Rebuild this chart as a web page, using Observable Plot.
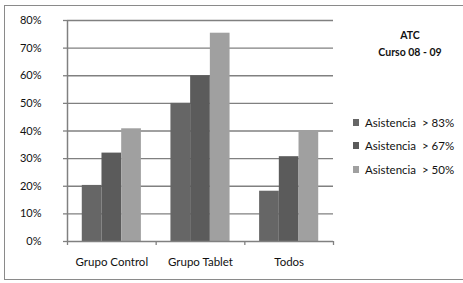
<!DOCTYPE html>
<html>
<head>
<meta charset="utf-8">
<script src="https://cdn.jsdelivr.net/npm/d3@7"></script>
<script src="https://cdn.jsdelivr.net/npm/@observablehq/plot@0.6"></script>
<style>
  body { margin: 0; background: #fff; }
  #wrap { position: relative; width: 463px; height: 283px; overflow: hidden; font-family: Lato, "Open Sans", sans-serif; }
  #border { position: absolute; left: 4px; top: 5px; width: 470px; height: 275px; border: 1.5px solid #8a8a8a; box-sizing: border-box; }
  #title { position: absolute; left: 360px; width: 100px; top: 27px; text-align: center; font-weight: bold; font-size: 10.5px; line-height: 17px; color: #111; }
  #legend { position: absolute; left: 353px; top: 111px; font-size: 11.5px; color: #111; }
  .item { display: flex; align-items: center; height: 23.3px; }
  .sw { width: 6px; height: 7px; margin-right: 6px; }
  svg { position: absolute; left: 0; top: 0; }
</style>
</head>
<body>
<div id="wrap"><div id="border"></div></div>
<script>
const categories = ["Grupo Control", "Grupo Tablet", "Todos"];
const series = ["Asistencia  > 83%", "Asistencia  > 67%", "Asistencia  > 50%"];
const v83 = [0.203, 0.50, 0.182];
const v67 = [0.32, 0.60, 0.307];
const v50 = [0.408, 0.754, 0.395];
const yTicks = [0, 0.1, 0.2, 0.3, 0.4, 0.5, 0.6, 0.7, 0.8];
const colors = ["#666666", "#5b5b5b", "#a0a0a0"];

const seriesValues = [v83, v67, v50];
const rows = [];
categories.forEach((c, ci) => {
  seriesValues.forEach((vals, si) => {
    rows.push({category: c, ci, si, series: series[si], value: vals[ci]});
  });
});
const groupOffset = 1/6, barW = 2/9;

const chart = Plot.plot({
  width: 463,
  height: 283,
  marginLeft: 67,
  marginRight: 130,
  marginTop: 20,
  marginBottom: 42,
  style: {fontFamily: "Lato, 'Open Sans', sans-serif", fontSize: "11px", color: "#111", background: "transparent"},
  x: {domain: [0, categories.length], axis: null, label: null},
  y: {domain: [0, 0.8], axis: null, label: null},
  color: {domain: series, range: colors},
  marks: [
    Plot.ruleY(yTicks.slice(1), {stroke: "#808080", strokeWidth: 1.3, strokeOpacity: 1}),
    Plot.rectY(rows, {
      x1: d => d.ci + groupOffset + d.si * barW,
      x2: d => d.ci + groupOffset + (d.si + 1) * barW,
      y: "value",
      fill: "series"
    }),
    Plot.axisY({ticks: yTicks, tickFormat: d3.format(".0%"), tickSize: 4, tickPadding: 22, stroke: "#808080", strokeWidth: 1.3, fontSize: 11, label: null}),
    Plot.axisX({ticks: d3.range(categories.length + 1), tickSize: 4, tickFormat: () => "", stroke: "#808080", strokeWidth: 1.3, label: null}),
    Plot.axisX({ticks: categories.map((c, i) => i + 0.5), tickSize: 0, tickPadding: 16, tickFormat: d => categories[Math.floor(d)], fontSize: 11.5, label: null}),
    Plot.ruleY([0], {stroke: "#808080", strokeWidth: 1.5}),
    Plot.ruleX([0], {y1: 0, y2: 0.8, stroke: "#808080", strokeWidth: 1.5})
  ]
});
const wrap = document.getElementById("wrap");
wrap.appendChild(chart);

const title = document.createElement("div");
title.id = "title";
title.innerHTML = "ATC<br>Curso 08 - 09";
wrap.appendChild(title);

const legend = document.createElement("div");
legend.id = "legend";
series.forEach((s, i) => {
  const it = document.createElement("div");
  it.className = "item";
  const sw = document.createElement("span");
  sw.className = "sw";
  sw.style.background = colors[i];
  const t = document.createElement("span");
  t.textContent = s;
  t.style.whiteSpace = "pre";
  it.appendChild(sw); it.appendChild(t);
  legend.appendChild(it);
});
wrap.appendChild(legend);
</script>
</body>
</html>
